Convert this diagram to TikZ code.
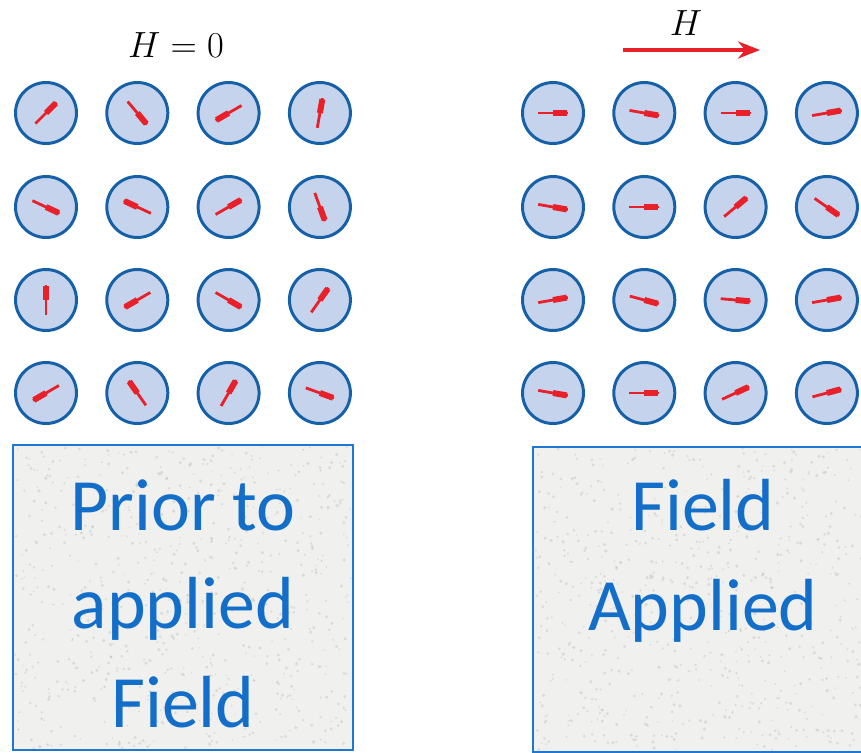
\documentclass[tikz,border=0pt]{standalone}
\usepackage{fontspec}
\newfontfamily\panelfont{Carlito}
\usetikzlibrary{arrows.meta}
\definecolor{dipolered}{RGB}{232,32,42}
\definecolor{spinfill}{RGB}{197,212,236}
\definecolor{spinedge}{RGB}{22,96,168}
\definecolor{panelblue}{RGB}{30,120,210}
\definecolor{panelgray}{RGB}{240,240,238}
\definecolor{textblue}{RGB}{18,110,200}
\tikzset{
  spin/.style={circle,draw=spinedge,fill=spinfill,line width=1.7pt,minimum size=1.22cm,inner sep=0pt},
  dipole/.style={dipolered,line width=1.6pt},
  dipolehead/.style={dipolered,line width=3.4pt},
  panel/.style={draw=panelblue,fill=panelgray,line width=0.8pt,minimum width=6.8cm,minimum height=6.1cm,inner sep=0pt},
  paneltext/.style={text=textblue,font=\panelfont\fontsize{42}{50}\selectfont,anchor=base,inner sep=0pt},
  fieldlabel/.style={font=\fontsize{20}{22}\selectfont,inner sep=0pt},
  grain/.style={fill=black!30,opacity=0.35},
}

\begin{document}
\begin{tikzpicture}[x=0.02cm,y=0.02cm]
\useasboundingbox (0,0) rectangle (861,752);
\pgfmathsetseed{17}

\foreach \y/\angs [count=\r] in {639/{45,-50,210,80},545/{-25,155,30,-70},452/{90,210,-30,55},359/{210,125,60,-20}}
  \foreach \a [count=\c] in \angs {
    \node[spin] (a\r\c) at ({46+91.3*(\c-1)},\y) {};
    \draw[dipole] (a\r\c.center) ++(\a+180:15) -- ++(\a:30);
    \draw[dipolehead] (a\r\c.center) -- ++(\a:14);
  }
\foreach \y/\angs [count=\r] in {639/{0,-10,0,10},545/{-10,0,40,-35},452/{10,-15,-5,10},359/{-10,0,25,15}}
  \foreach \a [count=\c] in \angs {
    \node[spin] (b\r\c) at ({553+91.3*(\c-1)},\y) {};
    \draw[dipole] (b\r\c.center) ++(\a+180:15) -- ++(\a:30);
    \draw[dipolehead] (b\r\c.center) -- ++(\a:14);
  }

\node[fieldlabel] (hzero) at (176,706.5) {$H = 0$};
\node[fieldlabel] (hname) at (686,728.5) {$H$};
\coordinate (hfrom) at (623,702);
\coordinate (hto) at (760,702);
\draw[dipolered,line width=2.2pt,-{Stealth[length=0.44cm,width=0.34cm]}] (hfrom) -- (hto);

\node[panel] (before) at (183,154.5) {};
\node[panel] (after) at (703,152.5) {};
\foreach \p in {before,after} {
  \begin{scope}
    \clip (\p.south west) rectangle (\p.north east);
    \foreach \k in {1,...,700}
      \fill[grain] (\p.center) ++(rand*168,rand*151) circle ({0.8+rnd});
  \end{scope}
  \draw[panelblue,line width=0.8pt] (\p.south west) rectangle (\p.north east);
}
\foreach \txt [count=\i] in {Prior to,applied,Field}
  \node[paneltext] (before\i) at (183,{222-98.5*(\i-1)}) {\txt};
\foreach \txt [count=\i] in {Field,Applied}
  \node[paneltext] (after\i) at (703,{222-100*(\i-1)}) {\txt};
\end{tikzpicture}
\end{document}
